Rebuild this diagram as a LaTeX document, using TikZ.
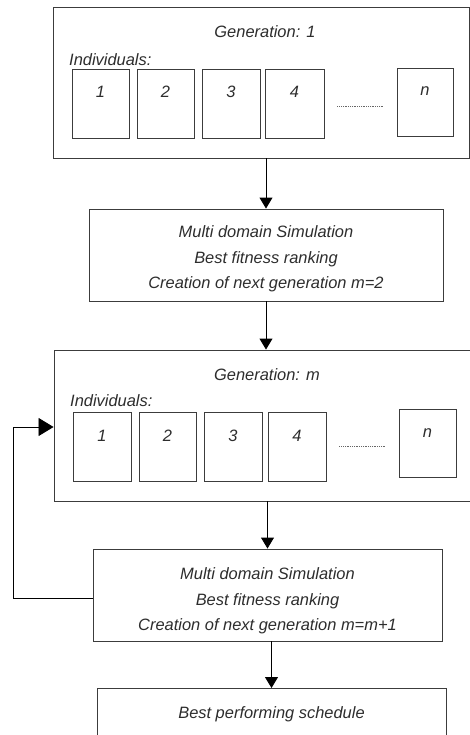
\documentclass[tikz,border=0pt]{standalone}
\usepackage{fontspec}
\setmainfont{Liberation Sans}
\usepackage{tikz}
\usetikzlibrary{arrows.meta,positioning,calc}
\definecolor{lnegrey}{RGB}{60,60,60}
\definecolor{txtgrey}{RGB}{45,45,45}

\begin{document}
\begin{tikzpicture}[x=1bp, y=-1bp,
  genbox/.style={draw=lnegrey, line width=0.9bp, minimum width=416bp, minimum height=151bp, inner sep=0pt},
  indiv/.style={draw=lnegrey, line width=0.9bp, minimum width=57bp, inner sep=0pt, text height=29bp, text depth=40bp, font=\fontsize{16.5}{18}\selectfont\itshape, text=txtgrey},
  stepbox/.style={draw=lnegrey, line width=0.9bp, minimum width=354bp, minimum height=92bp, align=center, font=\fontsize{16.5}{25.5}\selectfont\itshape, text=txtgrey},
  lbl/.style={font=\fontsize{16.5}{18}\selectfont\itshape, text=txtgrey, inner sep=0pt},
  flow/.style={-{Triangle[length=11bp, width=13bp]}, line width=0.9bp, black},
  back/.style={-{Triangle[length=15bp, width=18bp]}, line width=0.9bp, black},
  dotline/.style={densely dotted, line width=0.8bp, black!60}
]
  \clip (0,0) rectangle (470,735);

  % generation 1
  \node[genbox] (gen1) at (261,82.5) {};
  \node[lbl] (gen1t) at (265,32) {Generation: 1};
  \node[lbl, anchor=west] (gen1i) at (69,60) {Individuals:};
  \node[indiv] (ga1) at (100.5,103.5) {1};
  \node[indiv] (ga2) at (165.5,103.5) {2};
  \node[indiv, minimum width=58bp] (ga3) at (231,103.5) {3};
  \node[indiv, minimum width=59bp] (ga4) at (294.5,103.5) {4};
  \node[indiv, minimum width=56bp, text depth=40bp, text height=28bp] (gan) at (425,102) {n};
  \draw[dotline] ([xshift=13bp, yshift=-2.5bp]ga4.east) -- ([xshift=-13bp, yshift=-2.5bp]ga4.east -| gan.west);

  \node[stepbox] (sim1) at (266,255) {\rule{0pt}{20bp}Multi domain Simulation\\Best fitness ranking\\Creation of next generation m=2};

  % generation m
  \node[genbox] (genm) at (262,425.5) {};
  \node[lbl] (genmt) at (267,375) {Generation: m};
  \node[lbl, anchor=west] (genmi) at (70,401) {Individuals:};
  \node[indiv, minimum width=58bp] (gb1) at (102,446.5) {1};
  \node[indiv] (gb2) at (167.5,446.5) {2};
  \node[indiv, minimum width=58bp] (gb3) at (233,446.5) {3};
  \node[indiv, minimum width=58bp] (gb4) at (297,446.5) {4};
  \node[indiv, text height=28bp] (gbn) at (427.5,443) {n};
  \draw[dotline] ([xshift=13bp]gb4.east) -- ([xshift=-13bp]gb4.east -| gbn.west);

  \node[stepbox, minimum width=349bp] (sim2) at (267.5,595) {\rule{0pt}{24bp}Multi domain Simulation\\Best fitness ranking\\Creation of next generation m=m+1};

  \node[draw=lnegrey, line width=0.9bp, minimum width=349bp, anchor=north, inner sep=0pt, text height=30.5bp, text depth=61bp, font=\fontsize{16.5}{18}\selectfont\itshape, text=txtgrey] (best) at (271.5,688) {Best performing schedule};

  \coordinate (ret) at (13,0);

  \draw[flow] (sim1.north |- gen1.south) -- (sim1.north);
  \draw[flow] (sim1.south) -- (sim1.south |- genm.north);
  \draw[flow] (sim2.north |- genm.south) -- (sim2.north);
  \draw[flow] (best.north |- sim2.south) -- (best.north);
  \draw[back] ([yshift=-3bp]sim2.west) -- ([yshift=-3bp]sim2.west -| ret) |- ([yshift=-1.5bp]genm.west);
\end{tikzpicture}
\end{document}
